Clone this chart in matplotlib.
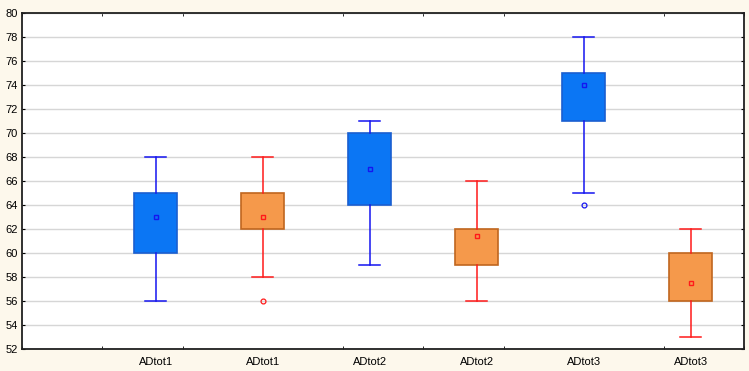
import numpy as np
import matplotlib
matplotlib.use("Agg")
from matplotlib import pyplot as plt

# DATA ########################################################################

labels = ["ADtot1", "ADtot1", "ADtot2", "ADtot2", "ADtot3", "ADtot3"]
whisker_low = [56, 58, 59, 56, 65, 53]
box_low = [60, 62, 64, 59, 71, 56]
center = [63, 63, 67, 61.4, 74, 57.5]
box_high = [65, 65, 70, 62, 75, 60]
whisker_high = [68, 68, 71, 66, 78, 62]
outliers = [[], [56], [], [], [64], []]

# blue / orange alternate
fill_colors = ["#0B76F4", "#F5994B"]
edge_colors = ["#1A5FD0", "#C0661F"]
line_colors = ["#1515F0", "#FF1A1A"]

# PLOT ########################################################################

plt.rcParams["font.family"] = ["Liberation Sans", "DejaVu Sans"]

fig = plt.figure(figsize=(7.49, 3.71), dpi=100)
fig.patch.set_facecolor("#FDF8EC")
ax = fig.add_axes([0.0294, 0.0593, 0.9643, 0.9065])

for i in range(len(labels)):
    k = i % 2
    stats = [dict(med=center[i], q1=box_low[i], q3=box_high[i],
                  whislo=whisker_low[i], whishi=whisker_high[i],
                  fliers=outliers[i], mean=center[i])]
    ax.bxp(stats, positions=[i + 1], widths=0.4, capwidths=0.2,
           patch_artist=True, showmeans=True, shownotches=False,
           boxprops=dict(facecolor=fill_colors[k], edgecolor=edge_colors[k],
                         linewidth=1.2),
           whiskerprops=dict(color=line_colors[k], linewidth=1.1),
           capprops=dict(color=line_colors[k], linewidth=1.1),
           medianprops=dict(linewidth=0),
           meanprops=dict(marker="s", markersize=3.5, markerfacecolor="none",
                          markeredgecolor=line_colors[k], markeredgewidth=1.0),
           flierprops=dict(marker="o", markersize=3.5, markerfacecolor="none",
                           markeredgecolor=line_colors[k], markeredgewidth=0.9),
           zorder=3)

ax.set_xlim(-0.25, 6.5)
ax.set_ylim(52, 80)
ax.set_yticks(np.arange(52, 81, 2))
ax.yaxis.grid(True, color="#D6D6D6", linewidth=1.0, zorder=0)
ax.set_axisbelow(True)

ax.set_xticks(np.arange(1, len(labels) + 1))
ax.set_xticklabels(labels)
ax.set_xticks(np.linspace(-0.25, 6.5, 10), minor=True)
ax.tick_params(axis="x", which="major", length=0, pad=6, labelsize=8)
ax.tick_params(axis="x", which="minor", direction="in", length=2.5,
               top=True, bottom=True)
ax.tick_params(axis="y", direction="in", length=2.5, right=True,
               labelsize=8, pad=3)

for spine in ax.spines.values():
    spine.set_linewidth(1.3)
    spine.set_color("#202020")

fig.savefig("out.png", dpi=100, facecolor=fig.get_facecolor())
